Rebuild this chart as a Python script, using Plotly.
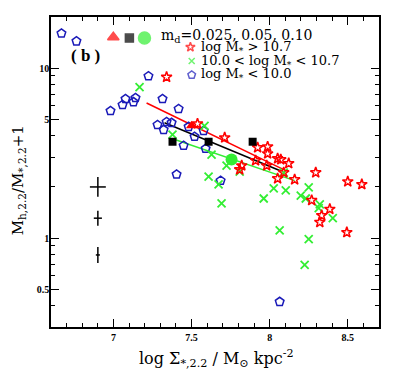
import plotly.graph_objects as go

# ---- data ----
blue_x = [6.667, 6.763, 7.224, 6.981, 7.058, 7.077, 7.128, 7.141, 7.314, 7.417, 7.282, 7.340,
          7.321, 7.372, 7.481, 7.519, 7.577, 7.449, 7.590, 7.404, 7.686, 8.064]
blue_y = [16.0, 14.4, 8.98, 5.60, 6.08, 6.59, 6.32, 6.68, 6.59, 5.76, 4.64, 4.83,
          4.34, 4.77, 4.52, 3.95, 4.28, 3.50, 3.36, 2.37, 2.18, 0.422]

red_x = [7.340, 7.538, 7.712, 7.923, 7.987, 7.987, 8.051, 8.071, 8.122, 7.910, 7.981, 7.821,
         7.808, 8.051, 8.160, 8.295, 8.500, 8.590, 8.269, 8.385, 8.333, 8.321, 8.494, 8.090]
red_y = [8.86, 4.71, 3.90, 3.41, 3.45, 3.14, 2.94, 2.90, 2.75, 2.86, 2.67, 2.67,
         2.53, 2.24, 2.21, 2.43, 2.15, 2.07, 1.67, 1.48, 1.36, 1.24, 1.08, 2.43]

green_x = [7.167, 7.378, 7.583, 7.628, 7.609, 7.724, 7.808, 7.673, 7.692, 7.962, 8.026, 8.103,
           8.250, 8.199, 8.231, 8.321, 8.314, 8.404, 8.064, 8.250, 8.224, 8.090]
green_y = [7.74, 4.06, 4.58, 3.10, 2.30, 2.67, 2.46, 2.07, 1.60, 1.71, 1.96, 1.91,
           1.99, 1.78, 1.71, 1.58, 1.50, 1.31, 1.11, 0.987, 0.695, 2.43]

tri_x, tri_y = [7.500], [4.58]
sq_x, sq_y = [7.378, 7.609, 7.891], [3.69, 3.69, 3.69]
circ_x, circ_y = [7.756], [2.90]

fit_red_x, fit_red_y = [7.212, 8.090], [6.24, 2.53]
fit_black_x, fit_black_y = [7.327, 8.064], [4.77, 2.50]
fit_green_x, fit_green_y = [7.397, 8.160], [3.79, 2.18]

err_x = [6.90, 6.90, 6.90]
err_y = [2.00, 1.31, 0.796]
err_dx = [0.051, 0.026, 0.013]      # dex
err_dy = [0.058, 0.044, 0.047]      # dex (log)

x_ticks = [7, 7.5, 8, 8.5]
x_tick_labels = ["7", "7.5", "8", "8.5"]
y_ticks = [0.5, 1, 5, 10]
y_tick_labels = ["0.5", "1", "5", "10"]

legend_rows = ["log M<sub>*</sub> &gt; 10.7",
               "10.0 &lt; log M<sub>*</sub> &lt; 10.7",
               "log M<sub>*</sub> &lt; 10.0"]
md_label = "m<sub>d</sub>=0.025, 0.05, 0.10"
x_title = "log Σ<sub>*,2.2</sub> / M<sub>⊙</sub> kpc<sup>-2</sup>"
y_title = "M<sub>h,2.2</sub>/M<sub>*,2.2</sub>+1"

RED = "#ff0000"
GREEN = "#33ee33"
BLUE = "#1a1ab8"
FONT = "Liberation Serif"
WFONT = "DejaVu Serif"

fig = go.Figure()

fig.add_trace(go.Scatter(x=fit_red_x, y=fit_red_y, mode="lines",
                         line=dict(color=RED, width=1.5)))
fig.add_trace(go.Scatter(x=fit_black_x, y=fit_black_y, mode="lines",
                         line=dict(color="black", width=1.5)))
fig.add_trace(go.Scatter(x=fit_green_x, y=fit_green_y, mode="lines",
                         line=dict(color=GREEN, width=1.5)))

fig.add_trace(go.Scatter(x=blue_x, y=blue_y, mode="markers",
                         marker=dict(symbol="pentagon-open", size=9, color=BLUE,
                                     line=dict(width=1.5, color=BLUE))))
fig.add_trace(go.Scatter(x=green_x, y=green_y, mode="markers",
                         marker=dict(symbol="x-thin-open", size=8, color=GREEN,
                                     line=dict(width=1.8, color=GREEN))))
fig.add_trace(go.Scatter(x=red_x, y=red_y, mode="markers",
                         marker=dict(symbol="star-open", size=8, color=RED,
                                     line=dict(width=1.5, color=RED))))

fig.add_trace(go.Scatter(x=tri_x, y=tri_y, mode="markers",
                         marker=dict(symbol="triangle-up", size=10, color=RED)))
fig.add_trace(go.Scatter(x=sq_x, y=sq_y, mode="markers",
                         marker=dict(symbol="square", size=8, color="black")))
fig.add_trace(go.Scatter(x=circ_x, y=circ_y, mode="markers",
                         marker=dict(symbol="circle", size=12, color=GREEN)))

# error-bar crosses (dex errors converted for the log axis)
ep = [y * (10 ** d - 1) for y, d in zip(err_y, err_dy)]
em = [y * (1 - 10 ** -d) for y, d in zip(err_y, err_dy)]
fig.add_trace(go.Scatter(x=err_x, y=err_y, mode="markers",
                         marker=dict(size=1, color="rgba(0,0,0,0)"),
                         error_x=dict(type="data", array=err_dx, color="black",
                                      thickness=1.5, width=0),
                         error_y=dict(type="data", array=ep, arrayminus=em,
                                      symmetric=False, color="black",
                                      thickness=1.5, width=0)))

# legend keys on an overlay axis spanning the plot area [0,1]
key_x = [0.190, 0.239, 0.285, 0.425, 0.429, 0.429]
key_y = [0.935, 0.932, 0.932, 0.903, 0.858, 0.813]
key_sym = ["triangle-up", "square", "circle", "star-open", "x-thin-open", "pentagon-open"]
key_col = [RED, "black", GREEN, RED, GREEN, BLUE]
key_size = [10, 8, 12, 7, 6, 8]
fig.add_trace(go.Scatter(x=key_x, y=key_y, mode="markers", xaxis="x2", yaxis="y2",
                         marker=dict(symbol=key_sym, size=key_size, color=key_col,
                                     line=dict(width=1.5, color=key_col))))

ann = [dict(x=0.328, y=0.940, text=md_label, xanchor="left", yanchor="middle",
            font=dict(size=14, family=WFONT)),
       dict(x=0.105, y=0.877, text="<b>( b )</b>", xanchor="center", yanchor="middle",
            font=dict(size=17, family=FONT)),
       dict(x=0.505, y=-0.10, text=x_title, xanchor="center", yanchor="middle",
            font=dict(size=16, family=WFONT)),
       dict(x=-0.10, y=0.474, text=y_title, xanchor="center", yanchor="middle",
            textangle=-90, font=dict(size=15, family=WFONT))]
row_y = [0.903, 0.858, 0.813]
for t, yy in zip(legend_rows, row_y):
    ann.append(dict(x=0.450, y=yy, text=t, xanchor="left", yanchor="middle",
                    font=dict(size=13, family=WFONT)))
for a in ann:
    a.update(xref="paper", yref="paper", showarrow=False)
    a["font"].update(color="black")

minor_x = [round(6.6 + 0.1 * i, 1) for i in range(22)]
minor_x = [v for v in minor_x if v not in x_ticks]
minor_y = [0.3, 0.4, 0.6, 0.7, 0.8, 0.9, 2, 3, 4, 6, 7, 8, 9, 20]

common = dict(ticks="inside", ticklen=8, tickwidth=1.3, tickcolor="black",
              showline=True, linecolor="black", linewidth=1.5, mirror="ticks",
              showgrid=False, zeroline=False, automargin=False,
              tickfont=dict(size=10, family=FONT))

# the page body adds an 8 px offset at the top-left, so the figure is 8 px smaller
fig.update_layout(
    width=392, height=366,
    margin=dict(l=43, r=21, t=9, b=47, autoexpand=False),
    paper_bgcolor="white", plot_bgcolor="white",
    showlegend=False,
    font=dict(family=FONT, color="black"),
    annotations=ann,
    xaxis=dict(range=[6.6, 8.7], tickmode="array", tickvals=x_ticks,
               ticktext=["<b>%s</b>" % t for t in x_tick_labels],
               ticklabelstandoff=0,
               minor=dict(tickmode="array", tickvals=minor_x, ticks="inside",
                          ticklen=4, tickwidth=1.2, tickcolor="black", showgrid=False),
               **common),
    yaxis=dict(type="log", range=[-0.523, 1.301], tickmode="array", tickvals=y_ticks,
               ticktext=["<b>%s</b>" % t for t in y_tick_labels],
               ticklabelstandoff=-2,
               minor=dict(tickmode="array", tickvals=minor_y, ticks="inside",
                          ticklen=4, tickwidth=1.2, tickcolor="black", showgrid=False),
               **common),
    xaxis2=dict(range=[0, 1], overlaying="x", visible=False),
    yaxis2=dict(range=[0, 1], overlaying="y", visible=False),
)

fig.write_html("out.html")
